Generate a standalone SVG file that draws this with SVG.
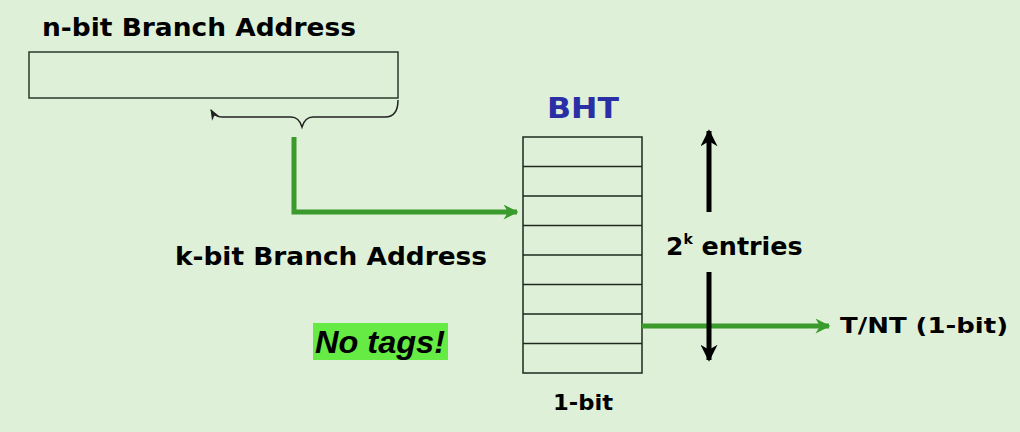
<svg xmlns="http://www.w3.org/2000/svg" width="1020" height="432" viewBox="0 0 1020 432">
<style>
.lbl{font-family:"DejaVu Sans",Verdana,sans-serif;font-weight:bold;fill:#000}
.box{fill:none;stroke:#2b3a2b;stroke-width:1.5}
.cell{fill:none;stroke:#1e2a1e;stroke-width:1.5}
.green{stroke:#3b9a2c;stroke-width:5;fill:none}
.blk{stroke:#000;stroke-width:5;fill:none}
</style>
<defs>
<marker id="ga" viewBox="0 0 10 10" refX="9" refY="5" markerWidth="5" markerHeight="3" markerUnits="strokeWidth" orient="auto"><path d="M0,0 L10,5 L0,10 L3,5 Z" fill="#3b9a2c"/></marker>
<marker id="ba" viewBox="0 0 10 10" refX="9" refY="5" markerWidth="5" markerHeight="3.4" markerUnits="strokeWidth" orient="auto"><path d="M0,0 L10,5 L0,10 L3,5 Z" fill="#000"/></marker>
<marker id="sa" viewBox="0 0 10 10" refX="9" refY="5" markerWidth="11" markerHeight="11" markerUnits="userSpaceOnUse" orient="auto"><path d="M0,1 L10,5 L0,9 L3,5 Z" fill="#222"/></marker>
</defs>
<rect width="1020" height="432" fill="#dff0d8"/>
<g id="address">
<text class="lbl" x="42" y="36" font-size="24" textLength="314" lengthAdjust="spacingAndGlyphs">n-bit Branch Address</text>
<rect class="box" x="29" y="52" width="369" height="46"/>
</g>
<g id="bht">
<text x="547" y="118" font-family="DejaVu Sans,Verdana,sans-serif" font-weight="bold" font-size="29" fill="#2b2fa6" textLength="72" lengthAdjust="spacingAndGlyphs">BHT</text>
<rect class="cell" x="523" y="137" width="119" height="236"/>
<path class="cell" d="M523,166.5H642M523,196H642M523,225.5H642M523,255H642M523,284.5H642M523,314H642M523,343.5H642"/>
<text class="lbl" x="553" y="410" font-size="21" textLength="60" lengthAdjust="spacingAndGlyphs">1-bit</text>
</g>
<g id="klabel"><text class="lbl" x="175" y="265" font-size="24" textLength="312" lengthAdjust="spacingAndGlyphs">k-bit Branch Address</text></g>
<g id="entries"><text class="lbl" x="666" y="255" font-size="25">2<tspan font-size="14" dy="-11">k</tspan><tspan dy="11" textLength="110" lengthAdjust="spacingAndGlyphs"> entries</tspan></text></g>
<g id="notags">
<rect x="313" y="323" width="135" height="37" fill="#66ea44"/>
<text x="315" y="353" font-family="Liberation Sans,Arial,sans-serif" font-weight="bold" font-style="italic" font-size="31" fill="#000" textLength="130" lengthAdjust="spacingAndGlyphs">No tags!</text>
</g>
<g id="output"><text class="lbl" x="840" y="333" font-size="22" textLength="168" lengthAdjust="spacingAndGlyphs">T/NT (1-bit)</text></g>
<g id="connectors">
<path d="M398,100 Q398,117 385,117 L313,117 Q305,117 302,127 Q299,117 291,117 L222,117 Q215,117 211,110" fill="none" stroke="#222" stroke-width="1.5" marker-end="url(#sa)"/>
<path class="green" d="M294,137 V212 H517" marker-end="url(#ga)"/>
<path class="green" d="M642,326 H829" marker-end="url(#ga)"/>
<path class="blk" d="M709,212 V131" marker-end="url(#ba)"/>
<path class="blk" d="M709,272 V360" marker-end="url(#ba)"/>
</g>
</svg>
